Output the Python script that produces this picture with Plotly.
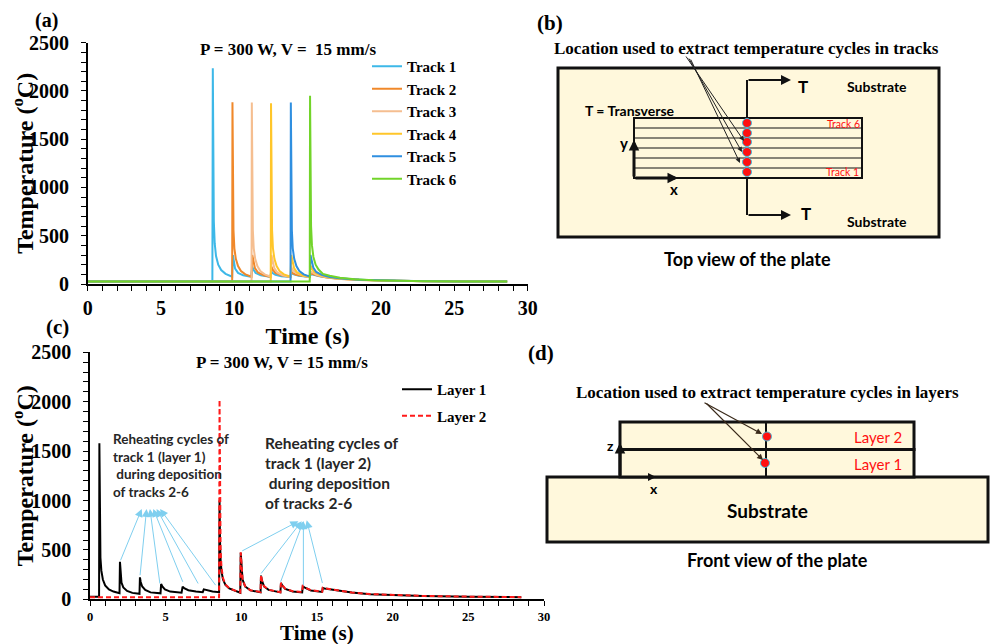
import plotly.graph_objects as go

# ---------------- Panel (a): temperature cycles in tracks ----------------
track_names = ["Track 1", "Track 2", "Track 3", "Track 4", "Track 5", "Track 6"]
track_colors = ["#3DB8E8", "#F0882A", "#F5BE90", "#FFC62A", "#2F8FE0", "#72D42A"]

t_track1 = [0, 8.50, 8.53, 8.56, 8.60, 8.66, 8.75, 8.90, 9.10, 9.40, 9.85, 9.90, 9.95, 10.05, 10.25, 10.60,
            11.15, 11.22, 11.30, 11.45, 11.80, 12.45, 12.52, 12.60, 12.80, 13.20, 13.82, 13.90, 14.05, 14.40,
            15.12, 15.22, 15.40, 15.80, 16.50, 17.50, 19.0, 21.0, 23.0, 25.5, 28.6]
T_track1 = [25, 25, 2235, 1100, 650, 420, 290, 200, 145, 105, 75, 300, 230, 160, 115, 90,
            74, 180, 150, 115, 90, 74, 130, 115, 95, 80, 72, 110, 100, 85,
            74, 100, 95, 80, 66, 54, 42, 33, 29, 26, 25]

t_track2 = [0, 9.85, 9.87, 9.90, 9.94, 10.00, 10.10, 10.25, 10.45, 10.75, 11.17, 11.22, 11.28, 11.40, 11.60,
            12.00, 12.48, 12.53, 12.60, 12.80, 13.20, 13.83, 13.88, 13.95, 14.20, 14.70, 15.14, 15.20, 15.30,
            15.60, 16.20, 17.00, 18.5, 20.5, 23.0, 25.5, 28.6]
T_track2 = [25, 25, 1882, 950, 560, 370, 260, 185, 135, 100, 75, 300, 240, 165, 120,
            90, 72, 180, 150, 115, 90, 72, 130, 115, 95, 80, 72, 110, 105,
            90, 70, 55, 42, 33, 29, 26, 25]

t_track3 = [0, 11.17, 11.19, 11.22, 11.26, 11.32, 11.42, 11.57, 11.77, 12.07, 12.48, 12.53, 12.60, 12.72, 12.92,
            13.30, 13.83, 13.88, 13.95, 14.20, 14.70, 15.14, 15.20, 15.30, 15.60, 16.20, 17.00, 18.5, 20.5,
            23.0, 25.5, 28.6]
T_track3 = [25, 25, 1880, 950, 560, 370, 260, 185, 135, 100, 75, 300, 240, 165, 120,
            90, 72, 180, 150, 115, 85, 72, 130, 120, 95, 72, 56, 42, 33,
            29, 26, 25]

t_track4 = [0, 12.48, 12.50, 12.53, 12.57, 12.63, 12.73, 12.88, 13.08, 13.38, 13.83, 13.88, 13.95, 14.07, 14.27,
            14.65, 15.14, 15.20, 15.28, 15.45, 15.80, 16.40, 17.20, 18.5, 20.5, 23.0, 25.5, 28.6]
T_track4 = [25, 25, 1872, 950, 560, 370, 260, 185, 135, 100, 75, 300, 240, 165, 120,
            90, 74, 190, 160, 125, 95, 70, 55, 43, 34, 29, 26, 25]

t_track5 = [0, 13.83, 13.85, 13.88, 13.92, 13.98, 14.08, 14.23, 14.43, 14.73, 15.14, 15.19, 15.26, 15.38, 15.58,
            15.95, 16.50, 17.30, 18.5, 20.5, 23.0, 25.5, 28.6]
T_track5 = [25, 25, 1880, 950, 560, 370, 260, 185, 135, 100, 76, 300, 240, 170, 125,
            95, 72, 56, 44, 34, 29, 26, 25]

t_track6 = [0, 15.14, 15.16, 15.19, 15.23, 15.29, 15.39, 15.54, 15.74, 16.04, 16.50, 17.20, 18.2, 19.5, 21.0,
            23.0, 25.5, 28.6]
T_track6 = [25, 25, 1951, 1000, 600, 400, 280, 200, 150, 105, 85, 64, 50, 40, 33,
            29, 26, 25]

track_times = [t_track1, t_track2, t_track3, t_track4, t_track5, t_track6]
track_temps = [T_track1, T_track2, T_track3, T_track4, T_track5, T_track6]

# ---------------- Panel (c): temperature cycles in layers ----------------
layer_names = ["Layer 1", "Layer 2"]
t_layer1 = [0, 0.60, 0.62, 0.65, 0.69, 0.75, 0.85, 1.00, 1.25, 1.55, 1.95, 1.98, 2.02, 2.08, 2.20, 2.45, 2.80,
            3.27, 3.30, 3.35, 3.45, 3.65, 4.00, 4.66, 4.70, 4.78, 4.95, 5.30, 6.05, 6.12, 6.25, 6.50, 7.00, 7.45,
            7.52, 7.70, 8.10, 8.53, 8.56, 8.59, 8.63, 8.69, 8.79, 8.95, 9.20, 9.55, 9.93, 9.96, 10.00, 10.08,
            10.25, 10.60, 11.27, 11.30, 11.36, 11.50, 11.80, 12.58, 12.62, 12.70, 12.90, 13.40, 14.02, 14.06,
            14.20, 14.60, 15.34, 15.38, 15.50, 15.90, 16.50, 17.30, 18.5, 20.0, 22.0, 25.0, 28.5]
T_layer1 = [25, 25, 1580, 700, 420, 290, 200, 140, 100, 78, 62, 380, 250, 170, 120, 85, 65,
            56, 222, 175, 130, 95, 70, 60, 155, 130, 100, 78, 66, 128, 110, 92, 78, 72,
            101, 92, 80, 72, 1000, 600, 400, 280, 200, 145, 110, 88, 67, 470, 320, 200,
            130, 90, 72, 240, 190, 130, 95, 70, 165, 140, 105, 80, 70, 130,
            118, 90, 75, 115, 110, 100, 85, 68, 52, 42, 34, 27, 22]

t_layer2 = [0, 8.53, 8.56, 8.59, 8.63, 8.69, 8.79, 8.95, 9.20, 9.55, 9.93, 9.96, 10.00, 10.08,
            10.25, 10.60, 11.27, 11.30, 11.36, 11.50, 11.80, 12.58, 12.62, 12.70, 12.90, 13.40, 14.02, 14.06,
            14.20, 14.60, 15.34, 15.38, 15.50, 15.90, 16.50, 17.30, 18.5, 20.0, 22.0, 25.0, 28.5]
T_layer2 = [20, 20, 2020, 900, 500, 320, 215, 150, 112, 90, 68, 476, 330, 205,
            132, 92, 74, 246, 195, 133, 97, 72, 168, 143, 107, 82, 72, 135,
            120, 92, 76, 117, 112, 102, 86, 69, 53, 43, 34, 27, 22]

# ---------------- Figure ----------------
W, H = 1000, 644
OFF = 8  # page body margin of the written html page


def X(p):
    return (p - OFF) / W


def Y(p):
    return 1 - (p - OFF) / H


SERIF = "Liberation Serif"
SANS = "Lato"

fig = go.Figure()

for name, col, tt, TT in zip(track_names, track_colors, track_times, track_temps):
    fig.add_trace(go.Scatter(x=tt, y=TT, mode="lines", name=name,
                             line=dict(color=col, width=2), xaxis="x", yaxis="y", legend="legend"))

fig.add_trace(go.Scatter(x=t_layer1, y=T_layer1, mode="lines", name=layer_names[0], legendgroup="g1",
                         line=dict(color="black", width=2), xaxis="x2", yaxis="y2", legend="legend2"))
fig.add_trace(go.Scatter(x=t_layer2, y=T_layer2, mode="lines", name=layer_names[1], legendgroup="g2",
                         line=dict(color="#FF1A1A", width=2, dash="5px,3px"), xaxis="x2", yaxis="y2",
                         legend="legend2"))

axis_common = dict(showgrid=False, zeroline=False, showline=True, linecolor="black", linewidth=1.5,
                   ticks="outside", tickcolor="black", tickwidth=1.2, ticklen=5, automargin=False,
                   minor=dict(ticks="outside", ticklen=5, tickcolor="black", tickwidth=1))

fig.update_layout(
    width=W, height=H, margin=dict(l=0, r=0, t=0, b=0, autoexpand=False),
    paper_bgcolor="white", plot_bgcolor="rgba(0,0,0,0)",
    xaxis=dict(domain=[X(87.7), X(527.7)], range=[0, 30], dtick=5, anchor="y",
               tickfont=dict(family=SERIF, size=20, color="black", weight="bold"),
               title=dict(text="Time (s)", font=dict(family=SERIF, size=24, color="black", weight="bold"),
                          standoff=9),
               minor_dtick=1, **axis_common),
    yaxis=dict(domain=[Y(284), Y(42.7)], range=[0, 2500], dtick=500, anchor="x",
               tickfont=dict(family=SERIF, size=20, color="black", weight="bold"),
               title=dict(text="Temperature (<sup>o</sup>C)",
                          font=dict(family=SERIF, size=24, color="black", weight="bold"), standoff=0),
               minor_dtick=100, ticklabelstandoff=8, **axis_common),
    xaxis2=dict(domain=[X(90), X(544)], range=[0, 30], dtick=5, anchor="y2",
                tickfont=dict(family=SERIF, size=12.5, color="black", weight="bold"),
                minor_dtick=1, **axis_common),
    yaxis2=dict(domain=[Y(599.3), Y(352.3)], range=[0, 2500], dtick=500, anchor="x2",
                tickfont=dict(family=SERIF, size=20, color="black", weight="bold"),
                title=dict(text="Temperature (<sup>o</sup>C)",
                           font=dict(family=SERIF, size=24, color="black", weight="bold"), standoff=0),
                minor_dtick=100, ticklabelstandoff=8, **axis_common),
    legend=dict(x=X(367), y=Y(50), xanchor="left", yanchor="top", bgcolor="rgba(0,0,0,0)",
                font=dict(family=SERIF, size=15, color="black", weight="bold"),
                itemwidth=30, tracegroupgap=0),
    legend2=dict(x=X(397), y=Y(373), xanchor="left", yanchor="top", bgcolor="rgba(0,0,0,0)",
                 font=dict(family=SERIF, size=15, color="black", weight="bold"),
                 itemwidth=30, tracegroupgap=4),
)

shapes = []
ann = []


def text(x, y, s, size, family=SANS, color="black", bold=True, xanchor="center", pad=1):
    ann.append(dict(x=X(x), y=Y(y), xref="paper", yref="paper", text=s, showarrow=False,
                    xanchor=xanchor, yanchor="middle", align="left" if xanchor == "left" else "center",
                    borderpad=pad,
                    font=dict(family=family, size=size, color=color, weight="bold" if bold else "normal")))


def rect(x0, y0, x1, y1, lw, fill=None):
    shapes.append(dict(type="rect", xref="paper", yref="paper", x0=X(x0), x1=X(x1), y0=Y(y1), y1=Y(y0),
                       line=dict(color="#111111", width=lw), fillcolor=fill if fill else "rgba(0,0,0,0)"))


def line(x0, y0, x1, y1, lw, color="#111111"):
    shapes.append(dict(type="line", xref="paper", yref="paper", x0=X(x0), x1=X(x1), y0=Y(y0), y1=Y(y1),
                       line=dict(color=color, width=lw)))


def dot(x, y, r=4.5):
    shapes.append(dict(type="circle", xref="paper", yref="paper", x0=X(x - r), x1=X(x + r),
                       y0=Y(y + r), y1=Y(y - r), fillcolor="#FF1010", line=dict(color="#4AB8D8", width=1)))


def arrow(hx, hy, tx, ty, lw, color="#111111", head=2, size=1.0):
    ann.append(dict(x=X(hx), y=Y(hy), xref="paper", yref="paper", text="", showarrow=True,
                    ax=tx - hx, ay=ty - hy, axref="pixel", ayref="pixel", arrowhead=head,
                    arrowsize=size, arrowwidth=lw, arrowcolor=color, standoff=0, startstandoff=0))


FILL = "#FFF8DC"

# Panel labels
text(46, 20, "(a)", 20, SERIF)
text(550, 23, "(b)", 21, SERIF)
text(57, 327, "(c)", 21, SERIF)
text(541, 353, "(d)", 21, SERIF)

# Panel (a)/(c) headers
text(288, 50, "P = 300 W, V =  15 mm/s", 17, SERIF)
text(282, 362, "P = 300 W, V = 15 mm/s", 17, SERIF)

# Panel (c) x-axis title
text(317, 633, "Time (s)", 21, SERIF, pad=0)

# ---------------- Panel (b) diagram ----------------
rect(558, 68, 939, 237, 3, FILL)
rect(634, 118, 862, 178, 2)
for yy in [128, 138, 148, 158, 168]:
    line(634, yy, 862, yy, 1)
line(747, 118, 747, 80, 2)
arrow(791, 80, 747, 80, 2, size=1.0)
line(747, 178, 747, 215, 2)
arrow(791, 215, 747, 215, 2, size=1.0)
text(803, 86, "T", 17)
text(806, 213, "T", 17)
text(877, 86, "Substrate", 14)
text(877, 221, "Substrate", 14)
text(630, 110, "T = Transverse", 14)
text(843, 124, "Track 6", 10.5, color="#FF1010", bold=False)
text(842, 172, "Track 1", 10.5, color="#FF1010", bold=False)
arrow(634, 140, 634, 178, 3, size=0.7)
arrow(678, 178, 634, 178, 3, size=0.7)
text(624, 143, "y", 15)
text(674, 189, "x", 15)
for yy in [123, 133, 142, 152, 162, 172]:
    dot(747, yy)
arrow(744, 141, 685, 55, 1, color="#222222", size=1.0)
arrow(742, 152, 688, 57, 1, color="#222222", size=1.0)
arrow(740, 163, 690, 58, 1, color="#222222", size=1.0)
text(746, 48, "Location used to extract temperature cycles in tracks", 17, SERIF)
text(747, 259, "Top view of the plate", 18)

# ---------------- Panel (d) diagram ----------------
rect(547, 477, 988, 542, 3, FILL)
rect(620, 422, 914, 449.5, 3, FILL)
rect(620, 449.5, 914, 477, 3, FILL)
line(766, 422, 766, 477, 2)
dot(767, 436.5)
dot(765, 463)
text(878, 437, "Layer 2", 15, color="#FF1010", bold=False)
text(878, 464, "Layer 1", 15, color="#FF1010", bold=False)
arrow(620, 443, 620, 477, 3, size=0.7)
arrow(656, 477, 620, 477, 2, size=0.8)
text(610, 445, "z", 14)
text(654, 488, "x", 14)
text(767, 511, "Substrate", 19)
text(777, 560, "Front view of the plate", 18)
arrow(762, 434, 703, 402, 1.2, color="#3a2a1a", size=1.0)
arrow(763, 460, 705, 402, 1.2, color="#3a2a1a", size=1.0)
text(767, 392, "Location used to extract temperature cycles in layers", 17, SERIF)

# ---------------- Panel (c) annotations ----------------
text(111, 466, "Reheating cycles of<br>track 1 (layer 1)<br> during deposition<br>of tracks 2-6", 13.5,
     color="#262626", xanchor="left")
text(263, 473, "Reheating cycles of<br>track 1 (layer 2)<br> during deposition<br>of tracks 2-6", 15.5,
     color="#262626", xanchor="left")

CYAN = "#7FCFEF"
heads1 = [(3.42, 915), (3.74, 915), (3.96, 915), (4.18, 915), (4.40, 915), (4.63, 915)]
tails1 = [(1.98, 380), (3.30, 229), (4.63, 145), (6.17, 162), (7.20, 145), (8.37, 128)]
heads2 = [(13.77, 790), (13.99, 790), (14.10, 790), (14.10, 790), (14.32, 800)]
tails2 = [(9.96, 482), (11.23, 246), (12.56, 162), (14.10, 125), (15.38, 150)]
for (hx, hy), (tx, ty) in list(zip(heads1, tails1)) + list(zip(heads2, tails2)):
    ann.append(dict(x=hx, y=hy, xref="x2", yref="y2", ax=tx, ay=ty, axref="x2", ayref="y2",
                    text="", showarrow=True, arrowhead=2, arrowsize=1.6, arrowwidth=1,
                    arrowcolor=CYAN, standoff=0))

fig.update_layout(shapes=shapes, annotations=ann)
fig.write_html("out.html")
